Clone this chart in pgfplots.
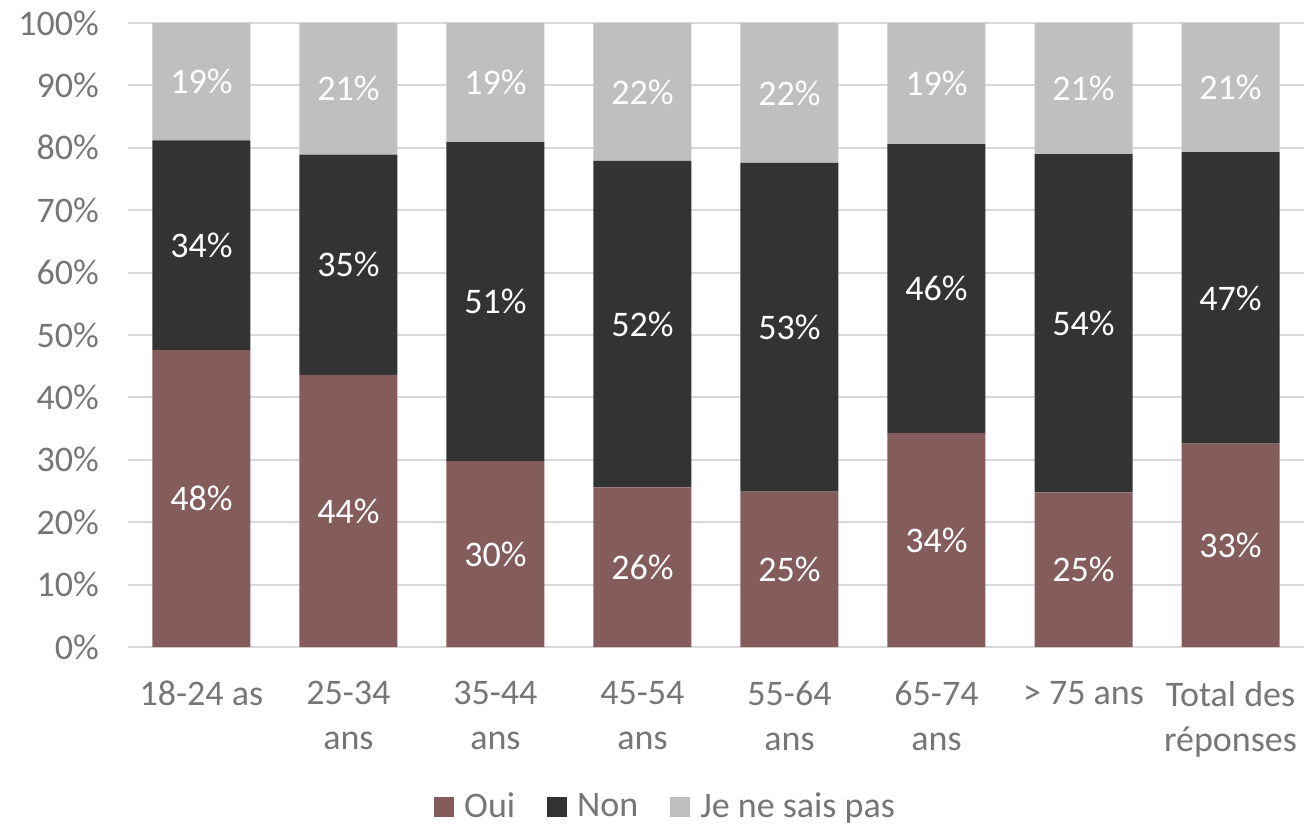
\documentclass[border=0pt]{standalone}
\usepackage{fontspec}
\setmainfont{Carlito}
\usepackage{pgfplots}
\usepackage{pgfplotstable}
\pgfplotsset{compat=1.18}
\definecolor{oui}{HTML}{845C5C}
\definecolor{non}{HTML}{333333}
\definecolor{nsp}{HTML}{BFBFBF}
\definecolor{gridc}{HTML}{D9D9D9}
\definecolor{txt}{HTML}{767676}

% values in %, labels are the rounded values shown on the bars
\pgfplotstableread{
x oui ouil non nonl nsp nspl
0 47.6 48 33.6 34 18.8 19
1 43.6 44 35.3 35 21.1 21
2 29.8 30 51.1 51 19.1 19
3 25.6 26 52.3 52 22.1 22
4 24.9 25 52.7 53 22.4 22
5 34.3 34 46.3 46 19.4 19
6 24.8 25 54.2 54 21.0 21
7 32.6 33 46.7 47 20.7 21
}\data

\begin{document}
\begin{tikzpicture}
\begin{axis}[
    scale only axis,
    width=588pt, height=312pt,
    ybar stacked, bar width=49pt,
    xmin=-0.5, xmax=7.5, ymin=0, ymax=100,
    xtick={0,...,7},
    xticklabels={18-24 as, 25-34\\ans, 35-44\\ans, 45-54\\ans, 55-64\\ans, 65-74\\ans, > 75 ans, Total des\\réponses},
    ytick={0,10,...,100},
    yticklabel={\pgfmathprintnumber{\tick}\%},
    /pgf/number format/assume math mode=true,
    ymajorgrids, grid style={gridc, line width=1pt},
    major tick length=0pt,
    axis line style={draw=none},
    tick label style={font=\fontsize{18}{22.5}\selectfont, text=txt},
    yticklabel style={xshift=-11pt},
    xticklabel style={align=center, yshift=-13.5pt},
    nodes near coords={\pgfplotspointmeta\%},
    point meta=explicit symbolic,
    every node near coord/.append style={anchor=center, text=white,
        font=\fontsize{18}{22}\selectfont},
    legend style={at={(axis description cs:0.458,-0.256)}, anchor=center,
        draw=none, legend columns=-1, font=\fontsize{18}{22}\selectfont, text=txt,
        /tikz/every odd column/.append style={column sep=3pt},
        /tikz/every even column/.append style={column sep=14pt}},
    legend image code/.code={\fill[#1] (0pt,-5pt) rectangle (10pt,5pt);},
]
\addplot[fill=oui, draw=none] table[x=x, y=oui, meta=ouil] {\data};
\addlegendentry{Oui}
\addplot[fill=non, draw=none] table[x=x, y=non, meta=nonl] {\data};
\addlegendentry{Non}
\addplot[fill=nsp, draw=none] table[x=x, y=nsp, meta=nspl] {\data};
\addlegendentry{Je ne sais pas}
\coordinate (bbsw) at (axis description cs:-0.1088,-0.290);
\coordinate (bbne) at (axis description cs:1,1.0369);
\end{axis}
\pgfresetboundingbox
\path (bbsw) rectangle (bbne);
\end{tikzpicture}
\end{document}
